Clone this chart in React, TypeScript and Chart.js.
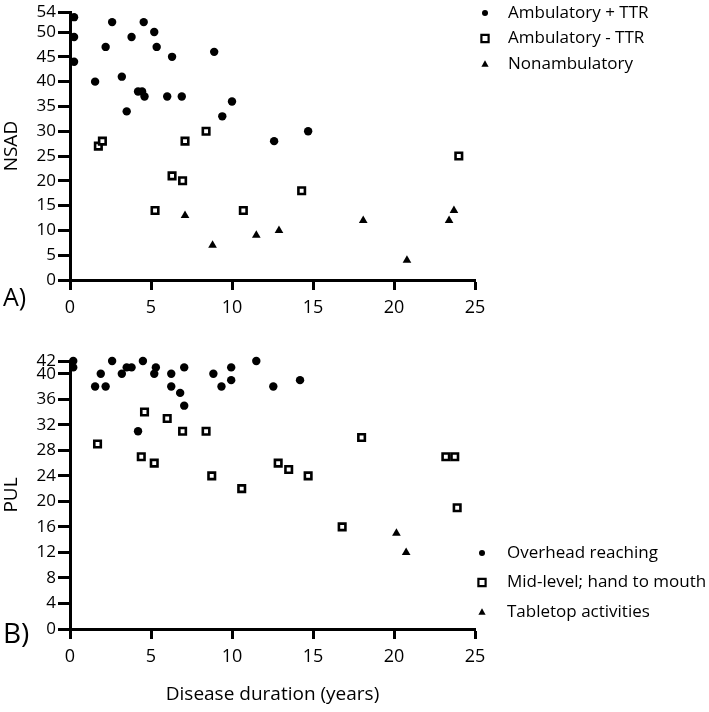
import React, { useEffect, useRef } from 'react';
import { Chart, registerables } from 'chart.js';

Chart.register(...registerables);

// Panel A: NSAD against disease duration (years)
const nsadPlusTtrX = [0.25, 0.25, 0.25, 1.55, 2.2, 2.6, 3.2, 3.5, 3.8, 4.2, 4.45, 4.55, 4.6, 5.2, 5.35, 6.0, 6.3, 6.9, 8.9, 9.4, 10.0, 12.6, 14.7];
const nsadPlusTtrY = [53, 49, 44, 40, 47, 52, 41, 34, 49, 38, 38, 52, 37, 50, 47, 37, 45, 37, 46, 33, 36, 28, 30];
const nsadMinusTtrX = [1.75, 2.0, 5.25, 6.3, 6.95, 7.1, 8.4, 10.7, 14.3, 24.0];
const nsadMinusTtrY = [27, 28, 14, 21, 20, 28, 30, 14, 18, 25];
const nsadNonambX = [7.1, 8.8, 11.5, 12.9, 18.1, 20.8, 23.4, 23.7];
const nsadNonambY = [13, 7, 9, 10, 12, 4, 12, 14];

// Panel B: PUL against disease duration (years)
const pulOverheadX = [0.2, 0.2, 1.55, 1.9, 2.2, 2.6, 3.2, 3.5, 3.8, 4.2, 4.5, 5.2, 5.3, 6.25, 6.25, 6.8, 7.05, 7.05, 8.85, 9.35, 9.95, 9.95, 11.5, 12.55, 14.2];
const pulOverheadY = [42, 41, 38, 40, 38, 42, 40, 41, 41, 31, 42, 40, 41, 40, 38, 37, 41, 35, 40, 38, 39, 41, 42, 38, 39];
const pulMidLevelX = [1.7, 4.4, 4.6, 5.2, 6.0, 6.95, 8.4, 8.75, 10.6, 12.85, 13.5, 14.7, 16.8, 18.0, 23.2, 23.75, 23.9];
const pulMidLevelY = [29, 27, 34, 26, 33, 31, 31, 24, 22, 26, 25, 24, 16, 30, 27, 27, 19];
const pulTabletopX = [20.15, 20.75];
const pulTabletopY = [15, 12];

const durationTicks = [0, 5, 10, 15, 20, 25];
const nsadTicks = [0, 5, 10, 15, 20, 25, 30, 35, 40, 45, 50, 54];
const pulTicks = [0, 4, 8, 12, 16, 20, 24, 28, 32, 36, 40, 42];

const nsadLabels = ['Ambulatory + TTR', 'Ambulatory - TTR', 'Nonambulatory'];
const pulLabels = ['Overhead reaching', 'Mid-level; hand to mouth', 'Tabletop activities'];

const FONT = "'Open Sans', 'Noto Sans', sans-serif";

// one marker look per series position (circle, open square, triangle)
const markers = [
  { pointStyle: 'circle', radius: 4.2, fill: '#000', borderWidth: 0, legendSize: 3 },
  { pointStyle: 'rect', radius: 4.6, fill: '#fff', borderWidth: 2.6, legendSize: 3.6 },
  { pointStyle: 'triangle', radius: 5, fill: '#000', borderWidth: 0, legendSize: 3.8 },
];

const toPoints = (xs: number[], ys: number[]) => xs.map((x, i) => ({ x, y: ys[i] }));

function legendMarker(ctx: CanvasRenderingContext2D, style: string, x: number, y: number, r: number) {
  ctx.beginPath();
  if (style === 'circle') {
    ctx.arc(x, y, r, 0, Math.PI * 2);
    ctx.fillStyle = '#000';
    ctx.fill();
  } else if (style === 'rect') {
    ctx.rect(x - r, y - r, r * 2, r * 2);
    ctx.fillStyle = '#fff';
    ctx.fill();
    ctx.lineWidth = 2.2;
    ctx.strokeStyle = '#000';
    ctx.stroke();
  } else {
    ctx.moveTo(x, y - r);
    ctx.lineTo(x + r * 0.95, y + r * 0.7);
    ctx.lineTo(x - r * 0.95, y + r * 0.7);
    ctx.closePath();
    ctx.fillStyle = '#000';
    ctx.fill();
  }
}

const sideLegend = {
  id: 'sideLegend',
  afterDraw(chart: any, _args: any, opts: any) {
    const { ctx } = chart;
    ctx.save();
    chart.data.datasets.forEach((ds: any, i: number) => {
      const m = markers[i];
      const y = opts.top + i * opts.gap;
      legendMarker(ctx, m.pointStyle, opts.markerX, y, m.legendSize);
      ctx.font = `${opts.fontSize}px ${FONT}`;
      ctx.textBaseline = 'middle';
      ctx.textAlign = 'left';
      ctx.fillStyle = '#000';
      ctx.fillText(ds.label, opts.textX, y);
    });
    ctx.restore();
  },
};

const panelTag = {
  id: 'panelTag',
  afterDraw(chart: any, _args: any, opts: any) {
    const { ctx } = chart;
    ctx.save();
    ctx.font = `${opts.fontSize}px ${FONT}`;
    ctx.fillStyle = '#000';
    ctx.textBaseline = 'alphabetic';
    ctx.textAlign = 'left';
    ctx.fillText(opts.text, opts.x, opts.y);
    ctx.restore();
  },
};

type Series = { label: string; xs: number[]; ys: number[] };

type PanelProps = {
  height: number;
  series: Series[];
  yTicks: number[];
  yMax: number;
  yTitle: string;
  xTitle?: string;
  tag: string;
  tagY: number;
  tagSize: number;
  padTop: number;
  xAxisHeight: number;
  legendTop: number;
  legendGap: number;
  legendMarkerX: number;
  legendTextX: number;
};

const Panel: React.FC<PanelProps> = (p) => {
  const canvasRef = useRef<HTMLCanvasElement | null>(null);

  useEffect(() => {
    const ctx = canvasRef.current?.getContext('2d');
    if (!ctx) return;

    const xScale: any = {
      type: 'linear',
      min: 0,
      max: 25,
      afterBuildTicks: (scale: any) => {
        scale.ticks = durationTicks.map((v) => ({ value: v }));
      },
      afterFit: (scale: any) => {
        scale.height = p.xAxisHeight;
      },
      grid: { drawOnChartArea: false, tickLength: 10, tickWidth: 3, tickColor: '#000' },
      border: { width: 3, color: '#000' },
      ticks: { color: '#000', font: { family: FONT, size: 18 }, padding: 7, maxRotation: 0 },
    };
    if (p.xTitle) {
      xScale.title = {
        display: true,
        text: p.xTitle,
        color: '#000',
        font: { family: FONT, size: 19 },
        padding: { top: 0, bottom: 6 },
      };
    }

    const chart = new Chart(ctx, {
      type: 'scatter',
      data: {
        datasets: p.series.map((s, i) => ({
          label: s.label,
          data: toPoints(s.xs, s.ys),
          pointStyle: markers[i].pointStyle as any,
          pointRadius: markers[i].radius,
          pointHoverRadius: markers[i].radius,
          pointBackgroundColor: markers[i].fill,
          pointBorderColor: '#000',
          pointBorderWidth: markers[i].borderWidth,
          clip: false as any,
        })),
      },
      options: {
        responsive: false,
        animation: false,
        layout: { padding: { top: p.padTop, right: 234, bottom: 0, left: 0 } },
        plugins: {
          legend: { display: false },
          tooltip: { enabled: false },
          sideLegend: {
            top: p.legendTop,
            gap: p.legendGap,
            markerX: p.legendMarkerX,
            textX: p.legendTextX,
            fontSize: 17,
          },
          panelTag: { text: p.tag, x: 3, y: p.tagY, fontSize: p.tagSize },
        } as any,
        scales: {
          x: xScale,
          y: {
            type: 'linear',
            min: 0,
            max: p.yMax,
            afterBuildTicks: (scale: any) => {
              scale.ticks = p.yTicks.map((v) => ({ value: v }));
            },
            afterFit: (scale: any) => {
              scale.width = 70;
            },
            grid: { drawOnChartArea: false, tickLength: 12, tickWidth: 3, tickColor: '#000' },
            border: { width: 3, color: '#000' },
            ticks: { color: '#000', font: { family: FONT, size: 17 }, padding: 2, autoSkip: false },
            title: {
              display: true,
              text: p.yTitle,
              color: '#000',
              font: { family: FONT, size: 19 },
              padding: { top: 0, bottom: 0 },
            },
          },
        },
      },
      plugins: [sideLegend, panelTag],
    });

    return () => {
      chart.destroy();
    };
  }, []);

  return <canvas ref={canvasRef} width={709} height={p.height} style={{ display: 'block' }}></canvas>;
};

const App: React.FC = () => {
  const nsadSeries: Series[] = [
    { label: nsadLabels[0], xs: nsadPlusTtrX, ys: nsadPlusTtrY },
    { label: nsadLabels[1], xs: nsadMinusTtrX, ys: nsadMinusTtrY },
    { label: nsadLabels[2], xs: nsadNonambX, ys: nsadNonambY },
  ];
  const pulSeries: Series[] = [
    { label: pulLabels[0], xs: pulOverheadX, ys: pulOverheadY },
    { label: pulLabels[1], xs: pulMidLevelX, ys: pulMidLevelY },
    { label: pulLabels[2], xs: pulTabletopX, ys: pulTabletopY },
  ];

  return (
    <div style={{ position: 'absolute', left: 0, top: 0, width: 709, height: 712 }}>
      <Panel
        height={344}
        series={nsadSeries}
        yTicks={nsadTicks}
        yMax={54}
        yTitle="NSAD"
        tag="A)"
        tagY={306}
        tagSize={25}
        padTop={12}
        xAxisHeight={64}
        legendTop={13}
        legendGap={25.5}
        legendMarkerX={485}
        legendTextX={508}
      />
      <Panel
        height={368}
        series={pulSeries}
        yTicks={pulTicks}
        yMax={42}
        yTitle="PUL"
        xTitle="Disease duration (years)"
        tag="B)"
        tagY={299}
        tagSize={28}
        padTop={17}
        xAxisHeight={83}
        legendTop={209}
        legendGap={29.5}
        legendMarkerX={482}
        legendTextX={507}
      />
    </div>
  );
};

export default App;
